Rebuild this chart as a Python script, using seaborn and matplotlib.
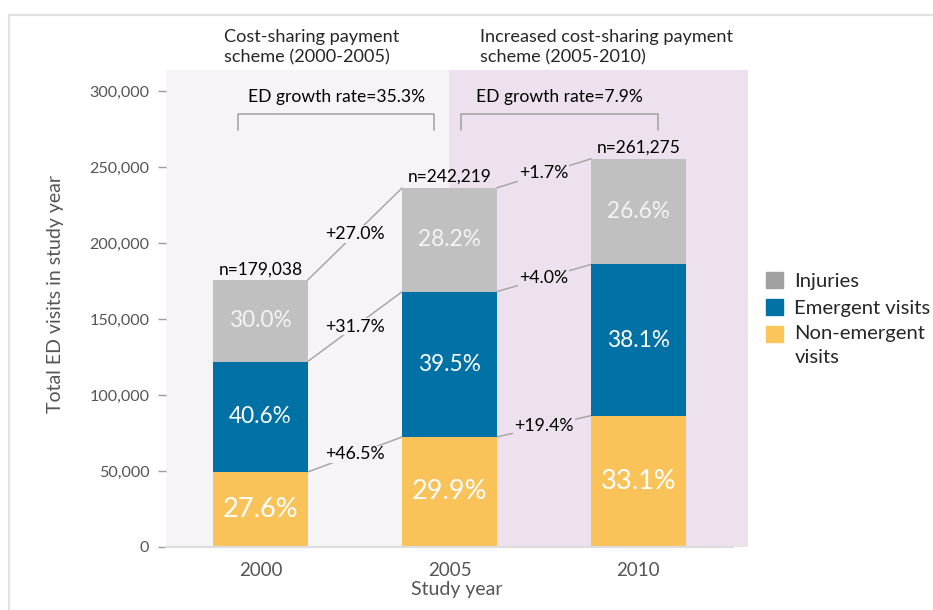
import matplotlib
matplotlib.use("Agg")
import matplotlib.pyplot as plt
import numpy as np
import pandas as pd
import seaborn as sb
from matplotlib.patches import Patch, Rectangle
from matplotlib.legend_handler import HandlerPatch


# Date
ani = ["2000", "2005", "2010"]
total_n = [179038, 242219, 261275]
pct_neurgent = [27.6, 29.9, 33.1]
pct_urgent = [40.6, 39.5, 38.1]
pct_injuries = [30.0, 28.2, 26.6]

crestere_neurgent = ["+46.5%", "+19.4%"]
crestere_urgent = ["+31.7%", "+4.0%"]
crestere_injuries = ["+27.0%", "+1.7%"]

rata_crestere = ["ED growth rate=35.3%", "ED growth rate=7.9%"]
perioade = ["Cost-sharing payment\nscheme (2000-2005)",
            "Increased cost-sharing payment\nscheme (2005-2010)"]

culori = {"neurgent": "#f9c35a", "urgent": "#0071a5", "injuries": "#c0c0c0"}
fundal = ["#f6f4f6", "#ede1ee"]

# Valori pe segmente
n = np.array(total_n, dtype=float)
v_neurgent = n * np.array(pct_neurgent) / 100
v_urgent = n * np.array(pct_urgent) / 100
v_injuries = n * np.array(pct_injuries) / 100

df = pd.DataFrame({
    "an": ani,
    "neurgent": v_neurgent,
    "urgent": v_neurgent + v_urgent,
    "injuries": v_neurgent + v_urgent + v_injuries,
})

sb.set_theme(style="white")
plt.rcParams["font.family"] = ["Lato", "DejaVu Sans"]

fig = plt.figure(figsize=(9.33, 6.10), dpi=100)
fig.patches.append(Rectangle((8.5 / 933, -0.2), 1.2, 0.2 + 1 - 14.5 / 610,
                             transform=fig.transFigure, fill=False,
                             ec="#e2e2e2", lw=1.6))
ax = fig.add_axes([166 / 933, 63 / 610, (748 - 166) / 933, (547 - 70) / 610])
ax.set_facecolor("none")

# Fundal perioade
ax.axvspan(-0.5, 1.0, color=fundal[0], zorder=0, lw=0)
ax.axvspan(1.0, 2.58, color=fundal[1], zorder=0, lw=0)

# Bare suprapuse (cumulat)
for col in ["injuries", "urgent", "neurgent"]:
    sb.barplot(data=df, x="an", y=col, color=culori[col], width=0.5,
               saturation=1, ax=ax, zorder=2, linewidth=0)

ax.set_xlim(-0.5, 2.58)
ax.set_ylim(0, 314000)
ax.set_yticks(np.arange(0, 300001, 50000))
ax.yaxis.set_major_formatter(matplotlib.ticker.FuncFormatter(lambda v, p: f"{int(v):,}"))
ax.tick_params(axis="y", left=True, length=6, width=1, color="#9a9a9a",
               labelsize=11.6, labelcolor="#555555", pad=6)
ax.tick_params(axis="x", bottom=False, labelsize=13.5, labelcolor="#555555", pad=5)
for s in ["top", "right", "left"]:
    ax.spines[s].set_visible(False)
ax.spines["bottom"].set_color("#dddddd")
ax.spines["bottom"].set_linewidth(1.6)
ax.spines["bottom"].set_bounds(-0.5, 2.5)

ax.set_xlabel("Study year", fontsize=14, color="#555555", labelpad=1)
ax.set_ylabel("Total ED visits in study year", fontsize=14, color="#555555")
ax.yaxis.set_label_coords(-0.175, 0.53)

# Etichete procente in bare
baze = [np.zeros(3), v_neurgent, v_neurgent + v_urgent]
valori = [v_neurgent, v_urgent, v_injuries]
procente = [pct_neurgent, pct_urgent, pct_injuries]
marimi = [19.5, 16.3, 16.3]
cul_text = ["white", "white", "#f4f4f4"]
for baza, val, pct, fs, ct in zip(baze, valori, procente, marimi, cul_text):
    for i in range(3):
        ax.text(i, baza[i] + val[i] / 2, f"{pct[i]:.1f}%", ha="center", va="center",
                fontsize=fs, color=ct, zorder=4)

# n= deasupra barelor
varf = v_neurgent + v_urgent + v_injuries
for i in range(3):
    ax.annotate(f"n={total_n[i]:,}", (i, varf[i]), xytext=(0, 2),
                textcoords="offset points", ha="center", va="bottom",
                fontsize=12.5, color="black", zorder=4)

# Linii de legatura si rata de crestere
sus = [v_neurgent, v_neurgent + v_urgent, varf]
cresteri = [crestere_neurgent, crestere_urgent, crestere_injuries]
for y, etich in zip(sus, cresteri):
    for i in range(2):
        x0, x1 = i + 0.25, i + 0.75
        ax.plot([x0, x1], [y[i], y[i + 1]], color="#a8a8a8", lw=1.1, zorder=1)
        ax.text((x0 + x1) / 2, (y[i] + y[i + 1]) / 2, etich[i], ha="center",
                va="center", fontsize=12.8, color="black", zorder=3,
                bbox=dict(boxstyle="square,pad=0.05", fc=fundal[i], ec="none"))

# Acolade rata de crestere ED
for (xa, xb), txt in zip([(-0.12, 0.92), (1.063, 2.106)], rata_crestere):
    ax.plot([xa, xa, xb, xb], [274500, 285300, 285300, 274500],
            color="#a0a0a0", lw=1.1, zorder=2)
    ax.text((xa + xb) / 2, 296000, txt, ha="center", va="center",
            fontsize=12.6, color="black")

# Titluri perioade
fig.text(224 / 933, 1 - 47.5 / 610, perioade[0], ha="left", va="center",
         fontsize=13.1, linespacing=1.3)
fig.text(480 / 933, 1 - 47.5 / 610, perioade[1], ha="left", va="center",
         fontsize=13.1, linespacing=1.3)


# Legenda - patratul pentru eticheta pe doua randuri aliniat la primul rand
def patrat_sus(legend, orig_handle, xdescent, ydescent, width, height, fontsize):
    return Rectangle((-xdescent, -ydescent + 0.55 * fontsize), width, height)


handles = [Patch(color="#a0a0a0"), Patch(color=culori["urgent"]),
           Patch(color="#fbc55a")]
leg = fig.legend(handles, ["Injuries", "Emergent visits", "Non-emergent\nvisits"],
                 loc="upper left", bbox_to_anchor=(758 / 933, 1 - 264 / 610),
                 frameon=False, fontsize=14.6, handlelength=0.85, handleheight=0.85,
                 handletextpad=0.55, labelspacing=0.42, borderaxespad=0,
                 handler_map={handles[2]: HandlerPatch(patch_func=patrat_sus)})
for t in leg.get_texts():
    t.set_linespacing(1.45)

fig.savefig("out.png", dpi=100)
